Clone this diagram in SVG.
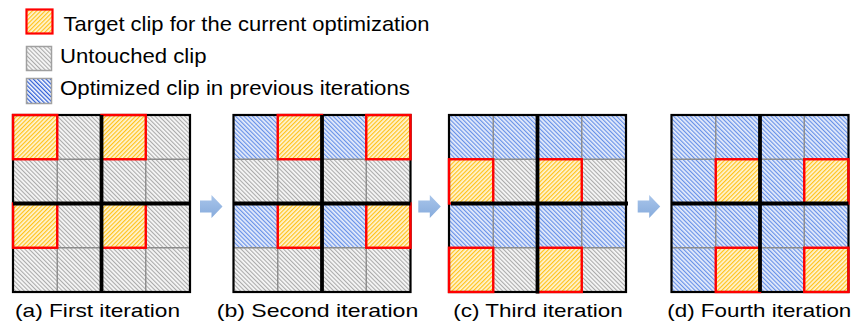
<svg xmlns="http://www.w3.org/2000/svg" width="858" height="324" viewBox="0 0 858 324">
  <style>
    .txt { font-family: "Liberation Sans", Arial, sans-serif; fill: #000; }
    .legend { font-size: 21px; }
    .caption { font-size: 19px; }
    .thin { fill: none; stroke: #8c8c8c; stroke-width: 1.4; }
    .border { fill: none; stroke: #000; stroke-width: 2.2; }
    .thick { fill: none; stroke: #000; stroke-width: 3.8; }
    .target { fill: none; stroke: #ff0000; stroke-width: 2.4; }
    .gray { fill: url(#hatch-gray); }
    .yellow { fill: url(#hatch-yellow); }
    .blue { fill: url(#hatch-blue); }
    .arrow { fill: url(#arrow-fill); }
  </style>
  <defs>
    <!-- diagonal hatch fills for the three clip states -->
    <pattern id="hatch-gray" width="3" height="3" patternUnits="userSpaceOnUse" patternTransform="rotate(-45)">
      <rect width="3" height="3" fill="#f7f7f7"/>
      <rect width="1.1" height="3" fill="#ababab"/>
    </pattern>
    <pattern id="hatch-yellow" width="3" height="3" patternUnits="userSpaceOnUse" patternTransform="rotate(45)">
      <rect width="3" height="3" fill="#fff5d6"/>
      <rect width="1.2" height="3" fill="#ffc21a"/>
    </pattern>
    <pattern id="hatch-blue" width="3" height="3" patternUnits="userSpaceOnUse" patternTransform="rotate(-45)">
      <rect width="3" height="3" fill="#e8eefb"/>
      <rect width="1.2" height="3" fill="#6791e8"/>
    </pattern>
    <pattern id="hatch-blue-legend" width="3" height="3" patternUnits="userSpaceOnUse" patternTransform="rotate(-45)">
      <rect width="3" height="3" fill="#ffffff"/>
      <rect width="1.3" height="3" fill="#2e5ed6"/>
    </pattern>
    <linearGradient id="arrow-fill" x1="0" y1="0" x2="0" y2="1">
      <stop offset="0" stop-color="#a9c5ea"/>
      <stop offset="1" stop-color="#86abdc"/>
    </linearGradient>
    <!-- 4x4 grid: thin clip lines, outer frame, and the thick 2x2 window cross -->
    <path id="thin-lines" d="M44.25 0V177M132.75 0V177M0 44.25H177M0 132.75H177"/>
    <path id="cross-lines" d="M88.5 0V177M0 88.5H177"/>
    <rect id="frame" x="0" y="0" width="177" height="177"/>
  </defs>

  <!-- legend -->
  <g id="legend">
    <g id="legend-target">
      <rect x="26.5" y="9.5" width="26" height="24" class="yellow" stroke="#ff0000" stroke-width="2.2"/>
      <text x="63.5" y="31" class="txt legend" textLength="366" lengthAdjust="spacingAndGlyphs">Target clip for the current optimization</text>
    </g>
    <g id="legend-untouched">
      <rect x="26.5" y="46.5" width="25" height="24" class="gray" stroke="#a0a0a0" stroke-width="1.5"/>
      <text x="60" y="62.7" class="txt legend" textLength="146.5" lengthAdjust="spacingAndGlyphs">Untouched clip</text>
    </g>
    <g id="legend-optimized">
      <rect x="26.5" y="78.5" width="25" height="25" fill="url(#hatch-blue-legend)" stroke="#a0a0a0" stroke-width="1.5"/>
      <text x="60" y="95" class="txt legend" textLength="350" lengthAdjust="spacingAndGlyphs">Optimized clip in previous iterations</text>
    </g>
  </g>

  <!-- (a) first iteration -->
  <g id="panel-a" transform="translate(13,115)">
    <rect width="177" height="177" class="gray"/>
    <rect x="0" y="0" width="44.25" height="44.25" class="yellow"/>
    <rect x="88.5" y="0" width="44.25" height="44.25" class="yellow"/>
    <rect x="0" y="88.5" width="44.25" height="44.25" class="yellow"/>
    <rect x="88.5" y="88.5" width="44.25" height="44.25" class="yellow"/>
    <use href="#thin-lines" class="thin"/>
    <use href="#frame" class="border"/>
    <rect x="0" y="0" width="44.25" height="44.25" class="target"/>
    <rect x="88.5" y="0" width="44.25" height="44.25" class="target"/>
    <rect x="0" y="88.5" width="44.25" height="44.25" class="target"/>
    <rect x="88.5" y="88.5" width="44.25" height="44.25" class="target"/>
    <use href="#cross-lines" class="thick"/>
  </g>

  <!-- (b) second iteration -->
  <g id="panel-b" transform="translate(233.5,115)">
    <rect width="177" height="177" class="gray"/>
    <rect x="0" y="0" width="44.25" height="44.25" class="blue"/>
    <rect x="88.5" y="0" width="44.25" height="44.25" class="blue"/>
    <rect x="0" y="88.5" width="44.25" height="44.25" class="blue"/>
    <rect x="88.5" y="88.5" width="44.25" height="44.25" class="blue"/>
    <rect x="44.25" y="0" width="44.25" height="44.25" class="yellow"/>
    <rect x="132.75" y="0" width="44.25" height="44.25" class="yellow"/>
    <rect x="44.25" y="88.5" width="44.25" height="44.25" class="yellow"/>
    <rect x="132.75" y="88.5" width="44.25" height="44.25" class="yellow"/>
    <use href="#thin-lines" class="thin"/>
    <use href="#frame" class="border"/>
    <rect x="44.25" y="0" width="44.25" height="44.25" class="target"/>
    <rect x="132.75" y="0" width="44.25" height="44.25" class="target"/>
    <rect x="44.25" y="88.5" width="44.25" height="44.25" class="target"/>
    <rect x="132.75" y="88.5" width="44.25" height="44.25" class="target"/>
    <use href="#cross-lines" class="thick"/>
  </g>

  <!-- (c) third iteration -->
  <g id="panel-c" transform="translate(449,115)">
    <rect width="177" height="177" class="blue"/>
    <rect x="44.25" y="44.25" width="44.25" height="44.25" class="gray"/>
    <rect x="132.75" y="44.25" width="44.25" height="44.25" class="gray"/>
    <rect x="44.25" y="132.75" width="44.25" height="44.25" class="gray"/>
    <rect x="132.75" y="132.75" width="44.25" height="44.25" class="gray"/>
    <rect x="0" y="44.25" width="44.25" height="44.25" class="yellow"/>
    <rect x="88.5" y="44.25" width="44.25" height="44.25" class="yellow"/>
    <rect x="0" y="132.75" width="44.25" height="44.25" class="yellow"/>
    <rect x="88.5" y="132.75" width="44.25" height="44.25" class="yellow"/>
    <use href="#thin-lines" class="thin"/>
    <use href="#frame" class="border"/>
    <rect x="0" y="44.25" width="44.25" height="44.25" class="target"/>
    <rect x="88.5" y="44.25" width="44.25" height="44.25" class="target"/>
    <rect x="0" y="132.75" width="44.25" height="44.25" class="target"/>
    <rect x="88.5" y="132.75" width="44.25" height="44.25" class="target"/>
    <path d="M88.5 0V178.5M2 88.5H179" class="thick"/>
  </g>

  <!-- (d) fourth iteration -->
  <g id="panel-d" transform="translate(671.5,115)">
    <rect width="177" height="177" class="blue"/>
    <rect x="44.25" y="44.25" width="44.25" height="44.25" class="yellow"/>
    <rect x="132.75" y="44.25" width="44.25" height="44.25" class="yellow"/>
    <rect x="44.25" y="132.75" width="44.25" height="44.25" class="yellow"/>
    <rect x="132.75" y="132.75" width="44.25" height="44.25" class="yellow"/>
    <use href="#thin-lines" class="thin"/>
    <use href="#frame" class="border"/>
    <rect x="44.25" y="44.25" width="44.25" height="44.25" class="target"/>
    <rect x="132.75" y="44.25" width="44.25" height="44.25" class="target"/>
    <rect x="44.25" y="132.75" width="44.25" height="44.25" class="target"/>
    <rect x="132.75" y="132.75" width="44.25" height="44.25" class="target"/>
    <use href="#cross-lines" class="thick"/>
  </g>

  <!-- block arrows between iterations -->
  <g id="connectors">
    <polygon class="arrow" points="200,200.5 211.5,200.5 211.5,195 222.5,206.5 211.5,218 211.5,212.5 200,212.5"/>
    <polygon class="arrow" points="418.3,200.5 429.8,200.5 429.8,195 440.8,206.5 429.8,218 429.8,212.5 418.3,212.5"/>
    <polygon class="arrow" points="637.7,200.5 649.2,200.5 649.2,195 660.2,206.5 649.2,218 649.2,212.5 637.7,212.5"/>
  </g>

  <!-- captions -->
  <g id="captions">
    <text x="15" y="316.7" class="txt caption" textLength="165" lengthAdjust="spacingAndGlyphs">(a) First iteration</text>
    <text x="216.7" y="316.7" class="txt caption" textLength="201.6" lengthAdjust="spacingAndGlyphs">(b) Second iteration</text>
    <text x="453.3" y="316.7" class="txt caption" textLength="169.4" lengthAdjust="spacingAndGlyphs">(c) Third iteration</text>
    <text x="667.3" y="316.7" class="txt caption" textLength="184" lengthAdjust="spacingAndGlyphs">(d) Fourth iteration</text>
  </g>
</svg>
